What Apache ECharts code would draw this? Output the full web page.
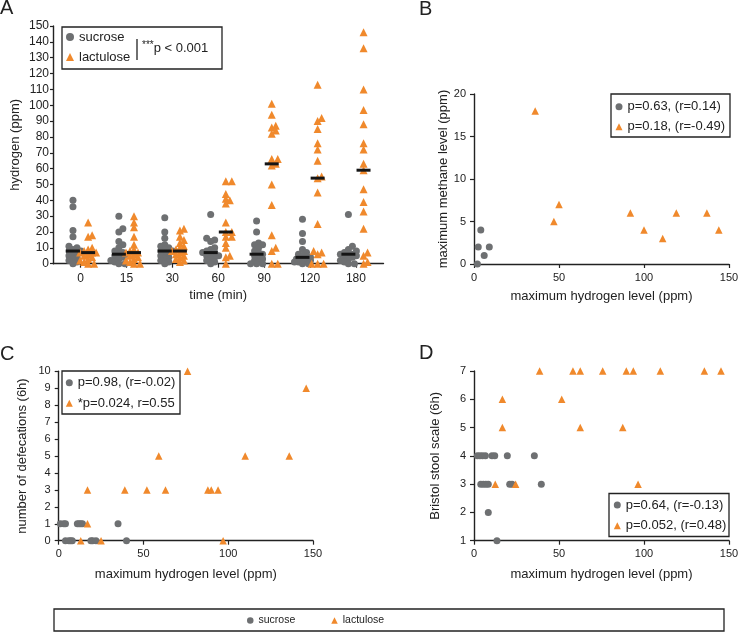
<!DOCTYPE html>
<html><head><meta charset="utf-8">
<script src="https://cdn.jsdelivr.net/npm/echarts@6/dist/echarts.min.js"></script>
<style>html,body{margin:0;padding:0;background:#fff}#c{width:739px;height:632px}</style>
</head><body><div id="c"></div>
<script>
// ---------- Panel A: hydrogen (ppm) over time ----------
const timeLabels = ['0', '15', '30', '60', '90', '120', '180'];
const sucroseH2 = [
  [40, 36, 21, 17, 11, 10, 9, 8, 8, 7, 6, 5, 4, 3, 2, 1, 0],
  [30, 22, 20, 14, 12, 10, 8, 7, 6, 6, 5, 4, 3, 2, 1, 0, 0],
  [29, 20, 16, 12, 11, 10, 9, 8, 8, 7, 6, 5, 4, 3, 2, 1, 0],
  [31, 16, 15, 14, 10, 9, 8, 7, 7, 6, 5, 5, 4, 3, 2, 1, 0],
  [27, 20, 13, 12, 12, 10, 8, 7, 6, 5, 4, 3, 2, 1, 0, 0, 0],
  [28, 19, 14, 9, 7, 6, 5, 4, 4, 3, 3, 2, 2, 1, 1, 0, 0],
  [31, 11, 9, 8, 7, 6, 6, 6, 6, 5, 5, 4, 3, 2, 1, 0, 0]
];
const lactuloseH2 = [
  [26, 18, 17, 10, 9, 8, 7, 7, 7, 6, 5, 4, 3, 2, 1, 0, 0],
  [30, 26, 23, 17, 12, 9, 8, 7, 7, 6, 5, 4, 3, 2, 1, 0, 0],
  [22, 21, 17, 15, 13, 11, 10, 9, 8, 8, 7, 6, 5, 4, 3, 2, 1],
  [52, 52, 44, 41, 40, 38, 26, 20, 20, 17, 17, 13, 10, 5, 4, 0],
  [101, 94, 87, 86, 84, 82, 66, 66, 63, 62, 50, 37, 18, 10, 8, 0, 0],
  [113, 92, 90, 85, 76, 72, 65, 55, 54, 45, 25, 8, 7, 6, 0, 0, 0],
  [146, 136, 110, 97, 88, 76, 72, 63, 59, 47, 39, 33, 22, 7, 5, 1, 0]
];
const aYTicks = [0, 150, 10];

// ---------- Panel B: max methane vs max hydrogen ----------
const bSucroseH2 = [2, 2.5, 4, 6, 9];
const bSucroseCH4 = [0, 2, 4, 1, 2];
const bLactuloseH2 = [36, 47, 50, 92, 100, 111, 119, 137, 144];
const bLactuloseCH4 = [18, 5, 7, 6, 4, 3, 6, 6, 4];

// ---------- Panel C: defecations vs max hydrogen ----------
const cSucroseH2 = [1, 3, 4, 11, 12, 13, 14, 35, 4, 6, 7, 8, 19, 20, 22, 40];
const cSucroseDef = [1, 1, 1, 1, 1, 1, 1, 1, 0, 0, 0, 0, 0, 0, 0, 0];
const cLactuloseH2 = [76, 146, 59, 110, 136, 17, 39, 52, 63, 88, 90, 94, 17, 13, 25, 97];
const cLactuloseDef = [10, 9, 5, 5, 5, 3, 3, 3, 3, 3, 3, 3, 1, 0, 0, 0];

// ---------- Panel D: Bristol stool scale vs max hydrogen ----------
const dSucroseH2 = [2, 3.5, 5, 6.7, 10.6, 12.2, 19.6, 35.5, 4, 5.5, 7, 8.4, 21, 22.4, 39.6, 8.4, 13.5];
const dSucroseBSS = [4, 4, 4, 4, 4, 4, 4, 4, 3, 3, 3, 3, 3, 3, 3, 2, 1];
const dLactuloseH2 = [38.6, 58.2, 62.5, 75.7, 89.6, 93.7, 109.6, 135.5, 145.3, 16.7, 51.6, 16.7, 62.5, 87.5, 12.5, 24.5, 96.5];
const dLactuloseBSS = [7, 7, 7, 7, 7, 7, 7, 7, 7, 6, 6, 5, 5, 5, 3, 3, 3];

// legend texts
const legB = ['p=0.63, (r=0.14)', 'p=0.18, (r=-0.49)'];
const legC = ['p=0.98, (r=-0.02)', '*p=0.024, r=0.55'];
const legD = ['p=0.64, (r=-0.13)', 'p=0.052, (r=0.48)'];

// ---------- styling ----------
const GRAY = '#6e7072', ORANGE = '#f0892c', INK = '#222';
const FONT = '"Liberation Sans", Arial, Helvetica, sans-serif';

const gridA = {left: 53, top: 26, width: 330.5, height: 237.7};
const gridB = {left: 474, top: 94, width: 255, height: 170};
const gridC = {left: 58.7, top: 371.3, width: 254.3, height: 169.4};
const gridD = {left: 474, top: 371, width: 255, height: 169.7};
const aXMin = -0.6, aXMax = 6.6;
const pxPerY = gridA.height / (aYTicks[1] - aYTicks[0]);
const pxPerX = gridA.width / (aXMax - aXMin);
const groupShift = 0.165;

function median(arr) {
  const s = arr.slice().sort((a, b) => a - b);
  const n = s.length;
  return n % 2 ? s[(n - 1) / 2] : (s[n / 2 - 1] + s[n / 2]) / 2;
}
// deterministic beeswarm offsets (pixels) so overlapping points spread sideways
function swarm(values, d, step, maxOff) {
  const idx = values.map((v, i) => i).sort((a, b) => values[a] - values[b]);
  const placed = [], off = new Array(values.length).fill(0);
  for (const i of idx) {
    const py = values[i] * pxPerY;
    let best = 0, bestScore = -1;
    for (let k = 0; k < 40; k++) {
      const ox = (k % 2 ? 1 : -1) * Math.ceil(k / 2) * step;
      if (Math.abs(ox) > maxOff) break;
      const minD = placed.reduce((m, p) => Math.min(m, Math.hypot(p.x - ox, p.y - py)), Infinity);
      if (minD >= d) { best = ox; bestScore = Infinity; break; }
      if (minD > bestScore) { bestScore = minD; best = ox; }
    }
    off[i] = best; placed.push({x: best, y: py});
  }
  return off;
}
function groupPoints(groups, side) {
  const out = [];
  groups.forEach((vals, ti) => {
    const off = swarm(vals, 4.2, 2, 8);
    vals.forEach((v, j) => out.push([ti + side * groupShift + off[j] / pxPerX, v]));
  });
  return out;
}
const medianPts = [];
sucroseH2.forEach((g, i) => medianPts.push([i - groupShift, median(g)]));
lactuloseH2.forEach((g, i) => medianPts.push([i + groupShift, median(g)]));

const zip = (a, b) => a.map((v, i) => [v, b[i]]);

function baseAxis(extra) {
  return Object.assign({
    type: 'value',
    splitLine: {show: false},
    axisLine: {show: true, onZero: false, lineStyle: {color: INK, width: 1.4}},
    axisTick: {show: true, length: 4, lineStyle: {color: INK, width: 1.2}},
    axisLabel: {color: INK, fontSize: 11, fontFamily: FONT, margin: 8},
    nameLocation: 'middle',
    nameTextStyle: {color: INK, fontSize: 13, fontFamily: FONT}
  }, extra);
}

const xName = 'maximum hydrogen level (ppm)';
const option = {
  animation: false,
  backgroundColor: '#fff',
  textStyle: {fontFamily: FONT},
  grid: [
    Object.assign({outerBoundsMode: 'none'}, gridA),
    Object.assign({outerBoundsMode: 'none'}, gridB),
    Object.assign({outerBoundsMode: 'none'}, gridC),
    Object.assign({outerBoundsMode: 'none'}, gridD)
  ],
  xAxis: [
    baseAxis({gridIndex: 0, min: aXMin, max: aXMax, name: 'time (min)', nameGap: 25,
      axisTick: {show: true, length: 4, lineStyle: {color: INK, width: 1.2}, customValues: timeLabels.map((t, i) => i)},
      axisLabel: {color: INK, fontSize: 12, fontFamily: FONT, margin: 9,
        customValues: timeLabels.map((t, i) => i), formatter: v => timeLabels[Math.round(v)]}}),
    baseAxis({gridIndex: 1, min: 0, max: 150, interval: 50, name: xName, nameGap: 26}),
    baseAxis({gridIndex: 2, min: 0, max: 150, interval: 50, name: xName, nameGap: 27}),
    baseAxis({gridIndex: 3, min: 0, max: 150, interval: 50, name: xName, nameGap: 27})
  ],
  yAxis: [
    baseAxis({gridIndex: 0, min: aYTicks[0], max: aYTicks[1], interval: aYTicks[2], name: 'hydrogen (ppm)', nameGap: 31,
      axisTick: {show: true, length: 3, lineStyle: {color: INK, width: 1.2}},
      axisLabel: {color: INK, fontSize: 12, fontFamily: FONT, margin: 4}}),
    baseAxis({gridIndex: 1, min: 0, max: 20, interval: 5, name: 'maximum methane level (ppm)', nameGap: 16}),
    baseAxis({gridIndex: 2, min: 0, max: 10, interval: 1, name: 'number of defecations (6h)', nameGap: 30}),
    baseAxis({gridIndex: 3, min: 1, max: 7, interval: 1, name: 'Bristol stool scale (6h)', nameGap: 32})
  ],
  legend: [
    {left: 66, top: 30.5, orient: 'vertical', itemWidth: 8, itemHeight: 8, itemGap: 7, padding: 0, selectedMode: false,
      textStyle: {fontSize: 13, color: INK, fontFamily: FONT},
      data: [{name: 'sucrose', icon: 'circle'}, {name: 'lactulose', icon: 'triangle'}]},
    {left: 615.5, top: 100.2, orient: 'vertical', itemWidth: 7, itemHeight: 7, itemGap: 7, padding: 0, selectedMode: false,
      textStyle: {fontSize: 13, color: INK, fontFamily: FONT},
      data: [{name: legB[0], icon: 'circle'}, {name: legB[1], icon: 'triangle'}]},
    {left: 65.8, top: 376.2, orient: 'vertical', itemWidth: 7, itemHeight: 7, itemGap: 7.6, padding: 0, selectedMode: false,
      textStyle: {fontSize: 13, color: INK, fontFamily: FONT},
      data: [{name: legC[0], icon: 'circle'}, {name: legC[1], icon: 'triangle'}]},
    {left: 613.8, top: 498.5, orient: 'vertical', itemWidth: 7, itemHeight: 7, itemGap: 7.7, padding: 0, selectedMode: false,
      textStyle: {fontSize: 13, color: INK, fontFamily: FONT},
      data: [{name: legD[0], icon: 'circle'}, {name: legD[1], icon: 'triangle'}]},
    {left: 247, top: 615, orient: 'horizontal', itemWidth: 6.5, itemHeight: 6.5, itemGap: 36, padding: 0, selectedMode: false,
      textStyle: {fontSize: 10.5, color: INK, fontFamily: FONT},
      data: [{name: 'sucrose', icon: 'circle'}, {name: 'lactulose', icon: 'triangle'}]}
  ],
  series: [
    {name: 'sucrose', type: 'scatter', xAxisIndex: 0, yAxisIndex: 0, symbol: 'circle', symbolSize: 7,
      itemStyle: {color: GRAY, opacity: 1}, data: groupPoints(sucroseH2, -1)},
    {name: 'lactulose', type: 'scatter', xAxisIndex: 0, yAxisIndex: 0, symbol: 'triangle', symbolSize: 8,
      itemStyle: {color: ORANGE, opacity: 1}, data: groupPoints(lactuloseH2, 1)},
    {name: 'median', type: 'scatter', xAxisIndex: 0, yAxisIndex: 0, symbol: 'rect', symbolSize: [14, 3], z: 5,
      itemStyle: {color: '#151515', opacity: 1}, data: medianPts},
    {name: legB[0], type: 'scatter', xAxisIndex: 1, yAxisIndex: 1, symbol: 'circle', symbolSize: 7,
      itemStyle: {color: GRAY, opacity: 1}, data: zip(bSucroseH2, bSucroseCH4)},
    {name: legB[1], type: 'scatter', xAxisIndex: 1, yAxisIndex: 1, symbol: 'triangle', symbolSize: 7.5,
      itemStyle: {color: ORANGE, opacity: 1}, data: zip(bLactuloseH2, bLactuloseCH4)},
    {name: legC[0], type: 'scatter', xAxisIndex: 2, yAxisIndex: 2, symbol: 'circle', symbolSize: 7,
      itemStyle: {color: GRAY, opacity: 1}, data: zip(cSucroseH2, cSucroseDef)},
    {name: legC[1], type: 'scatter', xAxisIndex: 2, yAxisIndex: 2, symbol: 'triangle', symbolSize: 7.5,
      itemStyle: {color: ORANGE, opacity: 1}, data: zip(cLactuloseH2, cLactuloseDef)},
    {name: legD[0], type: 'scatter', xAxisIndex: 3, yAxisIndex: 3, symbol: 'circle', symbolSize: 7,
      itemStyle: {color: GRAY, opacity: 1}, data: zip(dSucroseH2, dSucroseBSS)},
    {name: legD[1], type: 'scatter', xAxisIndex: 3, yAxisIndex: 3, symbol: 'triangle', symbolSize: 7.5,
      itemStyle: {color: ORANGE, opacity: 1}, data: zip(dLactuloseH2, dLactuloseBSS)}
  ],
  graphic: [
    {type: 'text', x: 0, y: 8, style: {text: 'A', fontSize: 20, fontFamily: FONT, fill: INK, verticalAlign: 'middle'}},
    {type: 'text', x: 419, y: 9, style: {text: 'B', fontSize: 20, fontFamily: FONT, fill: INK, verticalAlign: 'middle'}},
    {type: 'text', x: 0, y: 354, style: {text: 'C', fontSize: 20, fontFamily: FONT, fill: INK, verticalAlign: 'middle'}},
    {type: 'text', x: 419, y: 353, style: {text: 'D', fontSize: 20, fontFamily: FONT, fill: INK, verticalAlign: 'middle'}},
    {type: 'rect', shape: {x: 62, y: 27, width: 160, height: 42}, style: {fill: 'none', stroke: INK, lineWidth: 1.3}},
    {type: 'line', shape: {x1: 137, y1: 39, x2: 137, y2: 60}, style: {stroke: INK, lineWidth: 1.3}},
    {type: 'text', x: 142, y: 48, style: {
      text: '{s|***}{n|p < 0.001}', verticalAlign: 'middle',
      rich: {s: {fontSize: 10, fontFamily: FONT, fill: INK, verticalAlign: 'top', padding: [0, 0, 6, 0]},
             n: {fontSize: 13, fontFamily: FONT, fill: INK}}}},
    {type: 'rect', shape: {x: 611, y: 94, width: 119, height: 43}, style: {fill: 'none', stroke: INK, lineWidth: 1.3}},
    {type: 'rect', shape: {x: 62, y: 371, width: 118, height: 43}, style: {fill: 'none', stroke: INK, lineWidth: 1.3}},
    {type: 'rect', shape: {x: 609, y: 493.5, width: 120, height: 43}, style: {fill: 'none', stroke: INK, lineWidth: 1.3}},
    {type: 'rect', shape: {x: 54, y: 609, width: 670, height: 22}, style: {fill: 'none', stroke: INK, lineWidth: 1.3}}
  ]
};
const chart = echarts.init(document.getElementById('c'), null, {renderer: 'canvas'});
chart.setOption(option);
</script>
</body></html>
